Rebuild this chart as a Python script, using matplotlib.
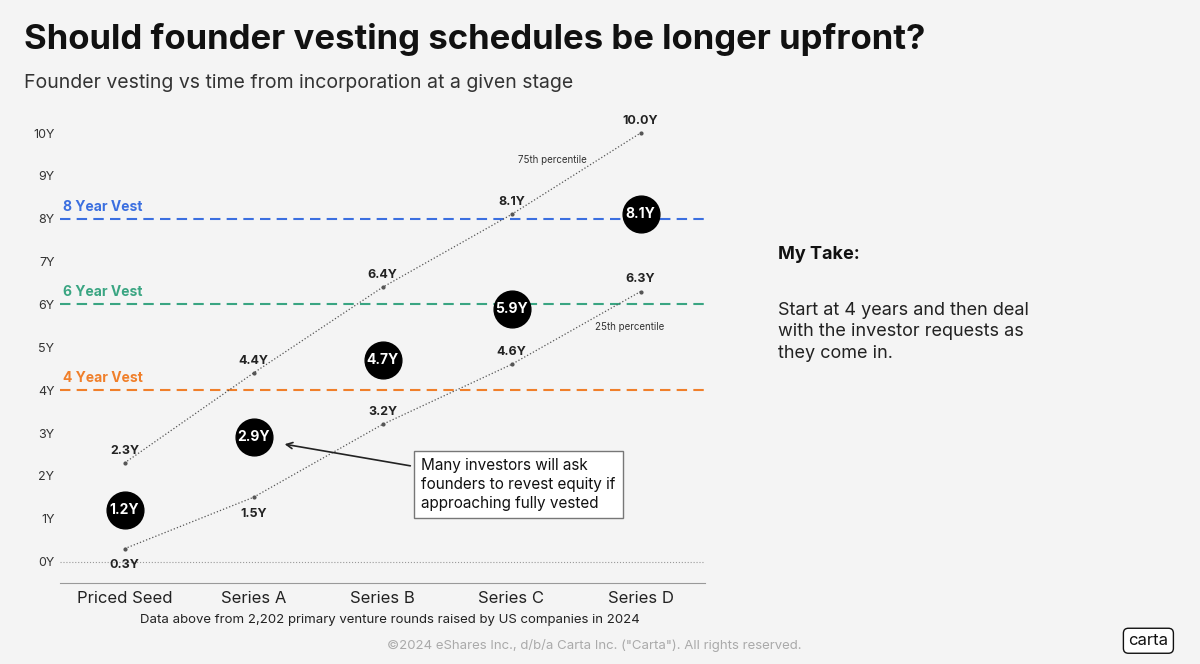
import matplotlib
matplotlib.use("Agg")
import matplotlib.pyplot as plt

stages = ["Priced Seed", "Series A", "Series B", "Series C", "Series D"]
p75 = [2.3, 4.4, 6.4, 8.1, 10.0]
p25 = [0.3, 1.5, 3.2, 4.6, 6.3]
median = [1.2, 2.9, 4.7, 5.9, 8.1]
vest_levels = [8, 6, 4]
vest_labels = ["8 Year Vest", "6 Year Vest", "4 Year Vest"]
vest_colors = ["#3b6fe0", "#3aa582", "#f07f2a"]
yticks = list(range(0, 11))
ylabels = [f"{v}Y" for v in yticks]

plt.rcParams['font.family'] = ['Inter', 'DejaVu Sans']
fig = plt.figure(figsize=(12, 6.64), dpi=100, facecolor="#f4f4f4")
ax = fig.add_axes([0.05, 0.122, 0.5375, 0.697])
ax.set_facecolor("#f4f4f4")
x = list(range(len(stages)))
ax.set_xlim(-0.5, 4.5)
ax.set_ylim(-0.5, 10.3)
for s in ["top", "right", "left"]:
    ax.spines[s].set_visible(False)
ax.spines["bottom"].set_color("#999999")
ax.set_yticks(yticks)
ax.set_yticklabels(ylabels, fontsize=9, color="#333333")
ax.tick_params(axis="y", length=0, pad=4)
ax.set_xticks(x)
ax.set_xticklabels(stages, fontsize=12, color="#222222")
ax.tick_params(axis="x", length=0, pad=6)

ax.axhline(0, color="#999999", lw=0.8, ls=":")
for lv, lb, c in zip(vest_levels, vest_labels, vest_colors):
    ax.axhline(lv, color=c, lw=1.5, ls=(0, (5, 3)))
    ax.text(-0.48, lv + 0.12, lb, color=c, fontsize=10, fontweight="bold", va="bottom")

ax.plot(x, p75, color="#555555", lw=0.9, ls=":", marker="o", ms=2)
for xi, v in zip(x, p75):
    ax.text(xi, v + 0.15, f"{v:.1f}Y", ha="center", va="bottom", fontsize=9,
            fontweight="bold", color="#222222")
ax.plot(x, p25, color="#555555", lw=0.9, ls=":", marker="o", ms=2)
for i, (xi, v) in enumerate(zip(x, p25)):
    above = i >= 2
    ax.text(xi, v + 0.15 if above else v - 0.25, f"{v:.1f}Y", ha="center",
            va="bottom" if above else "top", fontsize=9, fontweight="bold", color="#222222")
ax.text(3.05, 9.3, "75th percentile", fontsize=7, color="#333333")
ax.text(3.65, 5.4, "25th percentile", fontsize=7, color="#333333")

ax.scatter(x, median, s=700, color="black", zorder=5)
for xi, v in zip(x, median):
    ax.text(xi, v, f"{v:.1f}Y", ha="center", va="center", color="white",
            fontsize=10, fontweight="bold", zorder=6)

ax.annotate("Many investors will ask\nfounders to revest equity if\napproaching fully vested",
            xy=(1.22, 2.75), xytext=(2.3, 1.8), fontsize=11, color="#111111",
            ha="left", va="center", linespacing=1.3,
            bbox=dict(boxstyle="square,pad=0.5", fc="white", ec="#777777"),
            arrowprops=dict(arrowstyle="->", color="#222222", lw=1.2))

fig.text(0.02, 0.94, "Should founder vesting schedules be longer upfront?", fontsize=25,
         fontweight="bold", color="#111111", va="center")
fig.text(0.02, 0.875, "Founder vesting vs time from incorporation at a given stage", fontsize=14,
         color="#333333", va="center")
fig.text(0.325, 0.066, "Data above from 2,202 primary venture rounds raised by US companies in 2024",
         fontsize=9.5, color="#222222", ha="center", va="center")
fig.text(0.495, 0.028, "©2024 eShares Inc., d/b/a Carta Inc. (\"Carta\"). All rights reserved.",
         fontsize=9.5, color="#aaaaaa", ha="center", va="center")
fig.text(0.957, 0.035, "carta", fontsize=12, color="#111111", ha="center", va="center",
         bbox=dict(boxstyle="round,pad=0.3", fc="white", ec="#111111"))
fig.text(0.648, 0.617, "My Take:", fontsize=13, fontweight="bold", color="#111111", va="center")
fig.text(0.648, 0.50, "Start at 4 years and then deal\nwith the investor requests as\nthey come in.",
         fontsize=13, color="#222222", va="center", linespacing=1.35)
fig.savefig("out.png", dpi=100, facecolor=fig.get_facecolor())
